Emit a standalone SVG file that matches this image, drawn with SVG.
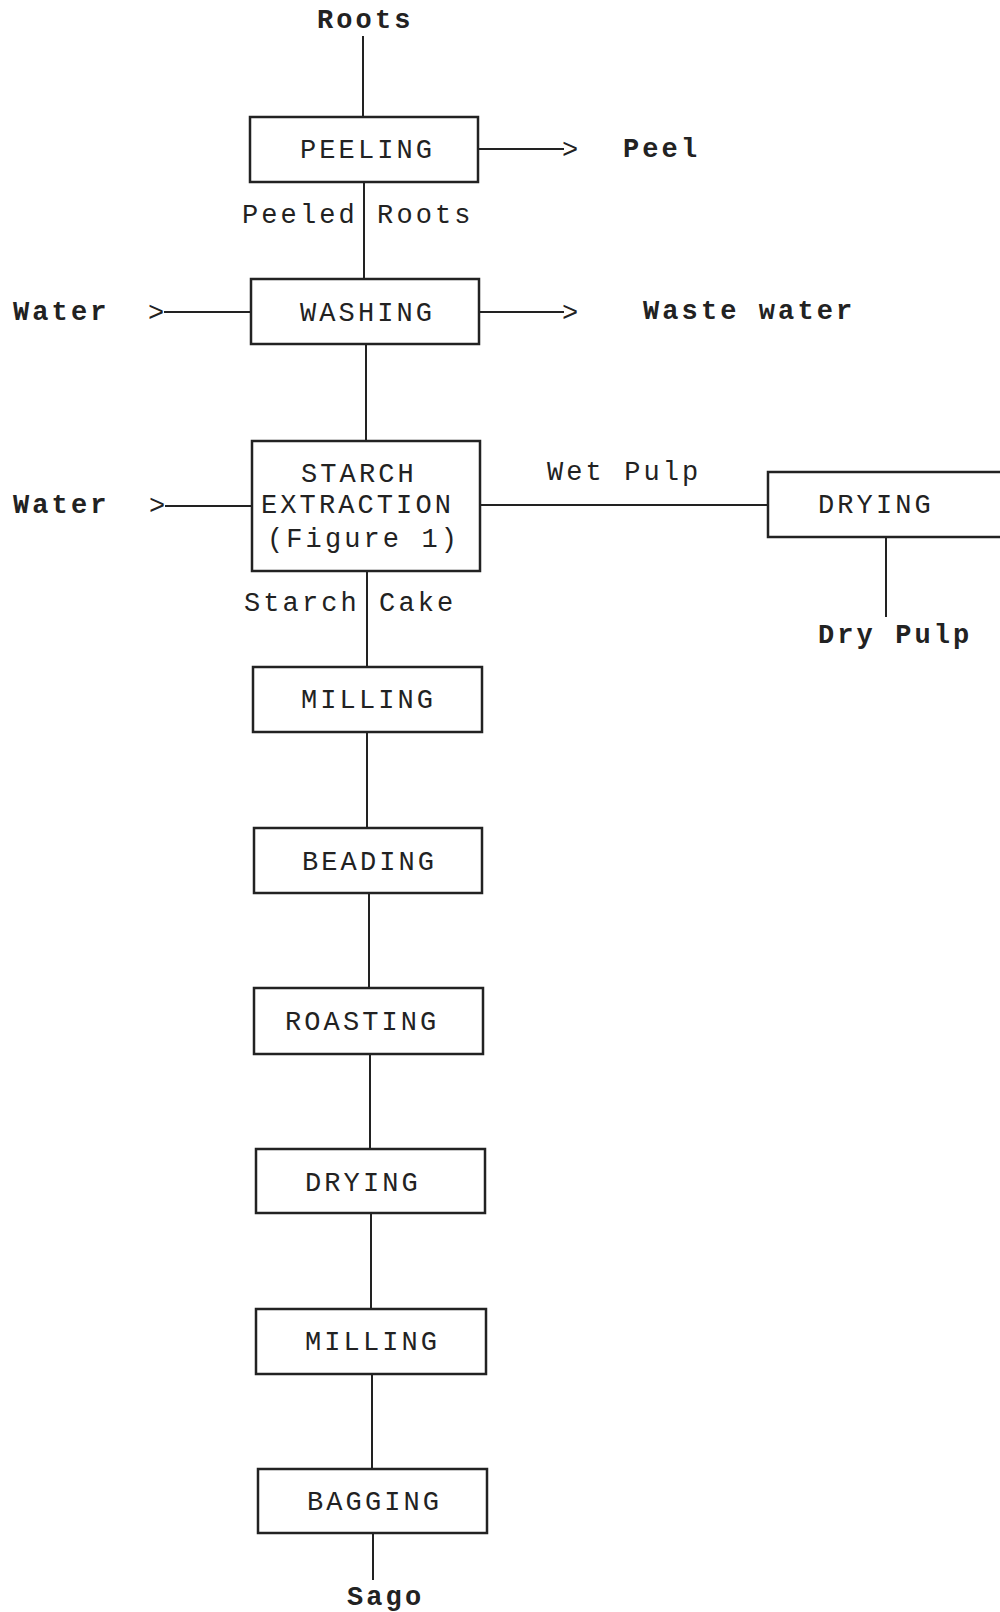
<svg xmlns="http://www.w3.org/2000/svg" width="1000" height="1612" viewBox="0 0 1000 1612">
<style>
  .box { fill: #fff; stroke: #222; stroke-width: 2.5; }
  .ln { stroke: #222; stroke-width: 2; fill: none; }
  text { font-family: "Liberation Mono", "DejaVu Sans Mono", monospace; font-size: 27px; letter-spacing: 3.1px; fill: #222; }
  .b { font-weight: bold; }
</style>
<rect width="1000" height="1612" fill="#fff"/>
<g id="connectors">
  <line class="ln" x1="363" y1="36" x2="363" y2="117"/>
  <line class="ln" x1="364" y1="182" x2="364" y2="279"/>
  <line class="ln" x1="366" y1="344" x2="366" y2="441"/>
  <line class="ln" x1="367" y1="571" x2="367" y2="667"/>
  <line class="ln" x1="367" y1="732" x2="367" y2="828"/>
  <line class="ln" x1="369" y1="893" x2="369" y2="988"/>
  <line class="ln" x1="370" y1="1054" x2="370" y2="1149"/>
  <line class="ln" x1="371" y1="1213" x2="371" y2="1309"/>
  <line class="ln" x1="372" y1="1374" x2="372" y2="1469"/>
  <line class="ln" x1="373" y1="1533" x2="373" y2="1580"/>
  <line class="ln" x1="478" y1="149" x2="564" y2="149"/>
  <text x="562" y="158">&gt;</text>
  <line class="ln" x1="164" y1="312" x2="251" y2="312"/>
  <text x="148" y="321">&gt;</text>
  <line class="ln" x1="479" y1="312" x2="564" y2="312"/>
  <text x="562" y="321">&gt;</text>
  <line class="ln" x1="165" y1="506" x2="252" y2="506"/>
  <text x="149" y="514">&gt;</text>
  <line class="ln" x1="480" y1="505" x2="768" y2="505"/>
  <line class="ln" x1="886" y1="537" x2="886" y2="617"/>
</g>
<g id="labels">
  <text class="b" x="317" y="28">Roots</text>
  <text class="b" x="623" y="157">Peel</text>
  <text x="242" y="223">Peeled Roots</text>
  <text class="b" x="13" y="320">Water</text>
  <text class="b" x="643" y="319">Waste water</text>
  <text class="b" x="13" y="513">Water</text>
  <text x="547" y="480">Wet Pulp</text>
  <text class="b" x="818" y="643">Dry Pulp</text>
  <text x="244" y="611">Starch Cake</text>
  <text class="b" x="347" y="1605">Sago</text>
</g>
<g id="peeling"><rect class="box" x="250" y="117" width="228" height="65"/><text x="300" y="158">PEELING</text></g>
<g id="washing"><rect class="box" x="251" y="279" width="228" height="65"/><text x="300" y="321">WASHING</text></g>
<g id="starch-extraction"><rect class="box" x="252" y="441" width="228" height="130"/>
  <text x="301" y="482">STARCH</text><text x="261" y="513">EXTRACTION</text><text x="267" y="547">(Figure 1)</text></g>
<g id="drying-pulp"><rect class="box" x="768" y="472" width="240" height="65"/><text x="818" y="513">DRYING</text></g>
<g id="milling1"><rect class="box" x="253" y="667" width="229" height="65"/><text x="301" y="708">MILLING</text></g>
<g id="beading"><rect class="box" x="254" y="828" width="228" height="65"/><text x="302" y="870">BEADING</text></g>
<g id="roasting"><rect class="box" x="254" y="988" width="229" height="66"/><text x="285" y="1030">ROASTING</text></g>
<g id="drying"><rect class="box" x="256" y="1149" width="229" height="64"/><text x="305" y="1191">DRYING</text></g>
<g id="milling2"><rect class="box" x="256" y="1309" width="230" height="65"/><text x="305" y="1350">MILLING</text></g>
<g id="bagging"><rect class="box" x="258" y="1469" width="229" height="64"/><text x="307" y="1510">BAGGING</text></g>
</svg>
